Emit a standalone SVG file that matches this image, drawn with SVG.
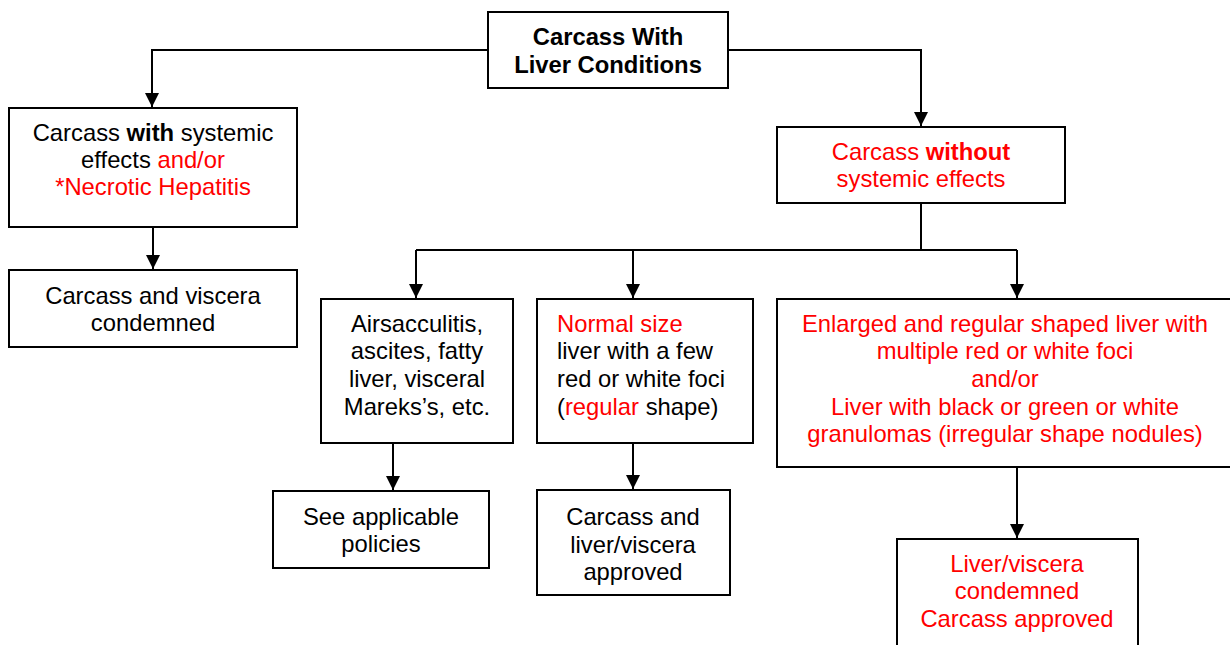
<svg xmlns="http://www.w3.org/2000/svg" width="1230" height="645" viewBox="0 0 1230 645">
<style>
.box{fill:#fff;stroke:#000;stroke-width:2}
text{font-family:"Liberation Sans",Arial,sans-serif;font-size:23.8px;fill:#000}
.c{text-anchor:middle}
.r{fill:#ff0000}
.b{font-weight:bold}
.conn{fill:none;stroke:#000;stroke-width:2}
</style>
<defs>
<marker id="arr" markerUnits="userSpaceOnUse" markerWidth="15" markerHeight="15" refX="14" refY="7.5" orient="auto" viewBox="0 0 15 15">
<path d="M0,0.5 L14,7.5 L0,14.5 z" fill="#000"/>
</marker>
</defs>
<g id="connectors">
<path class="conn" d="M488,50 H152 V107" marker-end="url(#arr)"/>
<path class="conn" d="M728,50 H921 V126" marker-end="url(#arr)"/>
<path class="conn" d="M153,227 V269" marker-end="url(#arr)"/>
<path class="conn" d="M921,203 V250"/>
<path class="conn" d="M416,250 H1017"/>
<path class="conn" d="M416,250 V298" marker-end="url(#arr)"/>
<path class="conn" d="M633,250 V298" marker-end="url(#arr)"/>
<path class="conn" d="M1017,250 V298" marker-end="url(#arr)"/>
<path class="conn" d="M393,443 V490" marker-end="url(#arr)"/>
<path class="conn" d="M633,443 V489" marker-end="url(#arr)"/>
<path class="conn" d="M1017,467 V538" marker-end="url(#arr)"/>
</g>
<g id="n-root">
<rect class="box" x="488" y="12" width="240" height="76"/>
<text class="c b" x="608" y="45">Carcass With</text>
<text class="c b" x="608" y="73">Liver Conditions</text>
</g>
<g id="n-with">
<rect class="box" x="9" y="108" width="288" height="119"/>
<text class="c" x="153" y="141">Carcass <tspan class="b">with</tspan> systemic</text>
<text class="c" x="153" y="168">effects <tspan class="r">and/or</tspan></text>
<text class="c r" x="153" y="195">*Necrotic Hepatitis</text>
</g>
<g id="n-condemned">
<rect class="box" x="9" y="270" width="288" height="77"/>
<text class="c" x="153" y="304">Carcass and viscera</text>
<text class="c" x="153" y="331">condemned</text>
</g>
<g id="n-without">
<rect class="box" x="777" y="127" width="288" height="76"/>
<text class="c r" x="921" y="160">Carcass <tspan class="b">without</tspan></text>
<text class="c r" x="921" y="187">systemic effects</text>
</g>
<g id="n-airsac">
<rect class="box" x="321" y="299" width="192" height="144"/>
<text class="c" x="417" y="332">Airsacculitis,</text>
<text class="c" x="417" y="359">ascites, fatty</text>
<text class="c" x="417" y="387">liver, visceral</text>
<text class="c" x="417" y="415">Mareks’s, etc.</text>
</g>
<g id="n-normal">
<rect class="box" x="537" y="299" width="216" height="144"/>
<text class="r" x="557" y="332">Normal size</text>
<text x="557" y="359">liver with a few</text>
<text x="557" y="387">red or white foci</text>
<text x="557" y="415">(<tspan class="r">regular</tspan> shape)</text>
</g>
<g id="n-enlarged">
<rect class="box" x="777" y="299" width="460" height="168"/>
<text class="c r" x="1005" y="332">Enlarged and regular shaped liver with</text>
<text class="c r" x="1005" y="359">multiple red or white foci</text>
<text class="c r" x="1005" y="387">and/or</text>
<text class="c r" x="1005" y="415">Liver with black or green or white</text>
<text class="c r" x="1005" y="442">granulomas (irregular shape nodules)</text>
</g>
<g id="n-policies">
<rect class="box" x="273" y="491" width="216" height="77"/>
<text class="c" x="381" y="525">See applicable</text>
<text class="c" x="381" y="552">policies</text>
</g>
<g id="n-approved">
<rect class="box" x="537" y="490" width="193" height="105"/>
<text class="c" x="633" y="525">Carcass and</text>
<text class="c" x="633" y="553">liver/viscera</text>
<text class="c" x="633" y="580">approved</text>
</g>
<g id="n-liver-condemned">
<rect class="box" x="897" y="539" width="241" height="120"/>
<text class="c r" x="1017" y="572">Liver/viscera</text>
<text class="c r" x="1017" y="599">condemned</text>
<text class="c r" x="1017" y="627">Carcass approved</text>
</g>
</svg>
